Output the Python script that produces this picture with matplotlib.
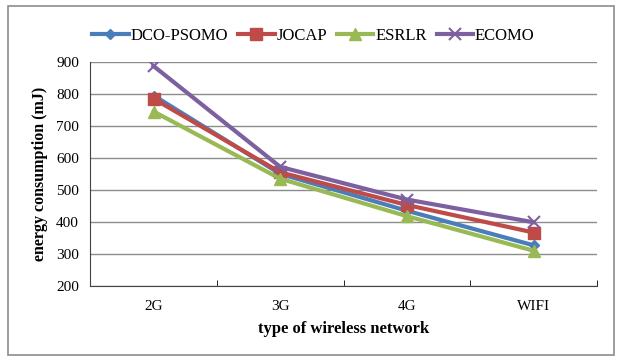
import matplotlib
matplotlib.use('Agg')
import matplotlib.pyplot as plt
from matplotlib.patches import Rectangle

plt.rcParams['font.family'] = ['Liberation Serif', 'DejaVu Serif']

# data
networks = ['2G', '3G', '4G', 'WIFI']
dco_psomo = [795, 550, 435, 327]
jocap = [785, 555, 453, 367]
esrlr = [745, 535, 418, 310]
ecomo = [887, 572, 470, 399]
y_ticks = [200, 300, 400, 500, 600, 700, 800, 900]

fig = plt.figure(figsize=(6.18, 3.62), dpi=100)
ax = fig.add_axes([0.146, 0.21, 0.82, 0.619])

# gray frame around the whole chart
fig.patches.append(Rectangle((0.013, 0.02), 0.98, 0.963, transform=fig.transFigure,
                             fill=False, edgecolor='#8c8c8c', linewidth=1.2))

x = range(len(networks))
ax.plot(x, dco_psomo, color='#4a7ebb', lw=3, marker='D', ms=5, label='DCO-PSOMO')
ax.plot(x, jocap, color='#be4b48', lw=3, marker='s', ms=8, label='JOCAP')
ax.plot(x, esrlr, color='#98b954', lw=3, marker='^', ms=8, label='ESRLR')
ax.plot(x, ecomo, color='#7d60a0', lw=3, marker='x', ms=8, mew=1.5, label='ECOMO')

ax.set_xlim(-0.5, len(networks) - 0.5)
ax.set_ylim(200, 900)
ax.set_yticks(y_ticks)
ax.set_xticks(list(x))
ax.set_xticklabels(networks, fontsize=11)
ax.set_xticks([i + 0.5 for i in range(-1, len(networks))], minor=True)
ax.tick_params(axis='x', which='major', length=0, pad=10)
ax.tick_params(axis='x', which='minor', length=4, direction='in')
ax.tick_params(axis='y', length=0, labelsize=11, pad=8)
ax.grid(axis='y', color='#8c8c8c', lw=1)
ax.set_axisbelow(True)
for side in ['top', 'right']:
    ax.spines[side].set_visible(False)
ax.spines['left'].set_color('#444444')
ax.spines['bottom'].set_color('#444444')

ax.set_xlabel('type of wireless network', fontsize=12, fontweight='bold', labelpad=6)
ax.set_ylabel('energy consumption (mJ)', fontsize=11.5, fontweight='bold', labelpad=6)

fig.legend(loc='center', bbox_to_anchor=(0.507, 0.9), ncol=4, frameon=False,
           fontsize=12, handlelength=2.2, columnspacing=0.6, handletextpad=0.1)

fig.savefig('out.png', dpi=100)
